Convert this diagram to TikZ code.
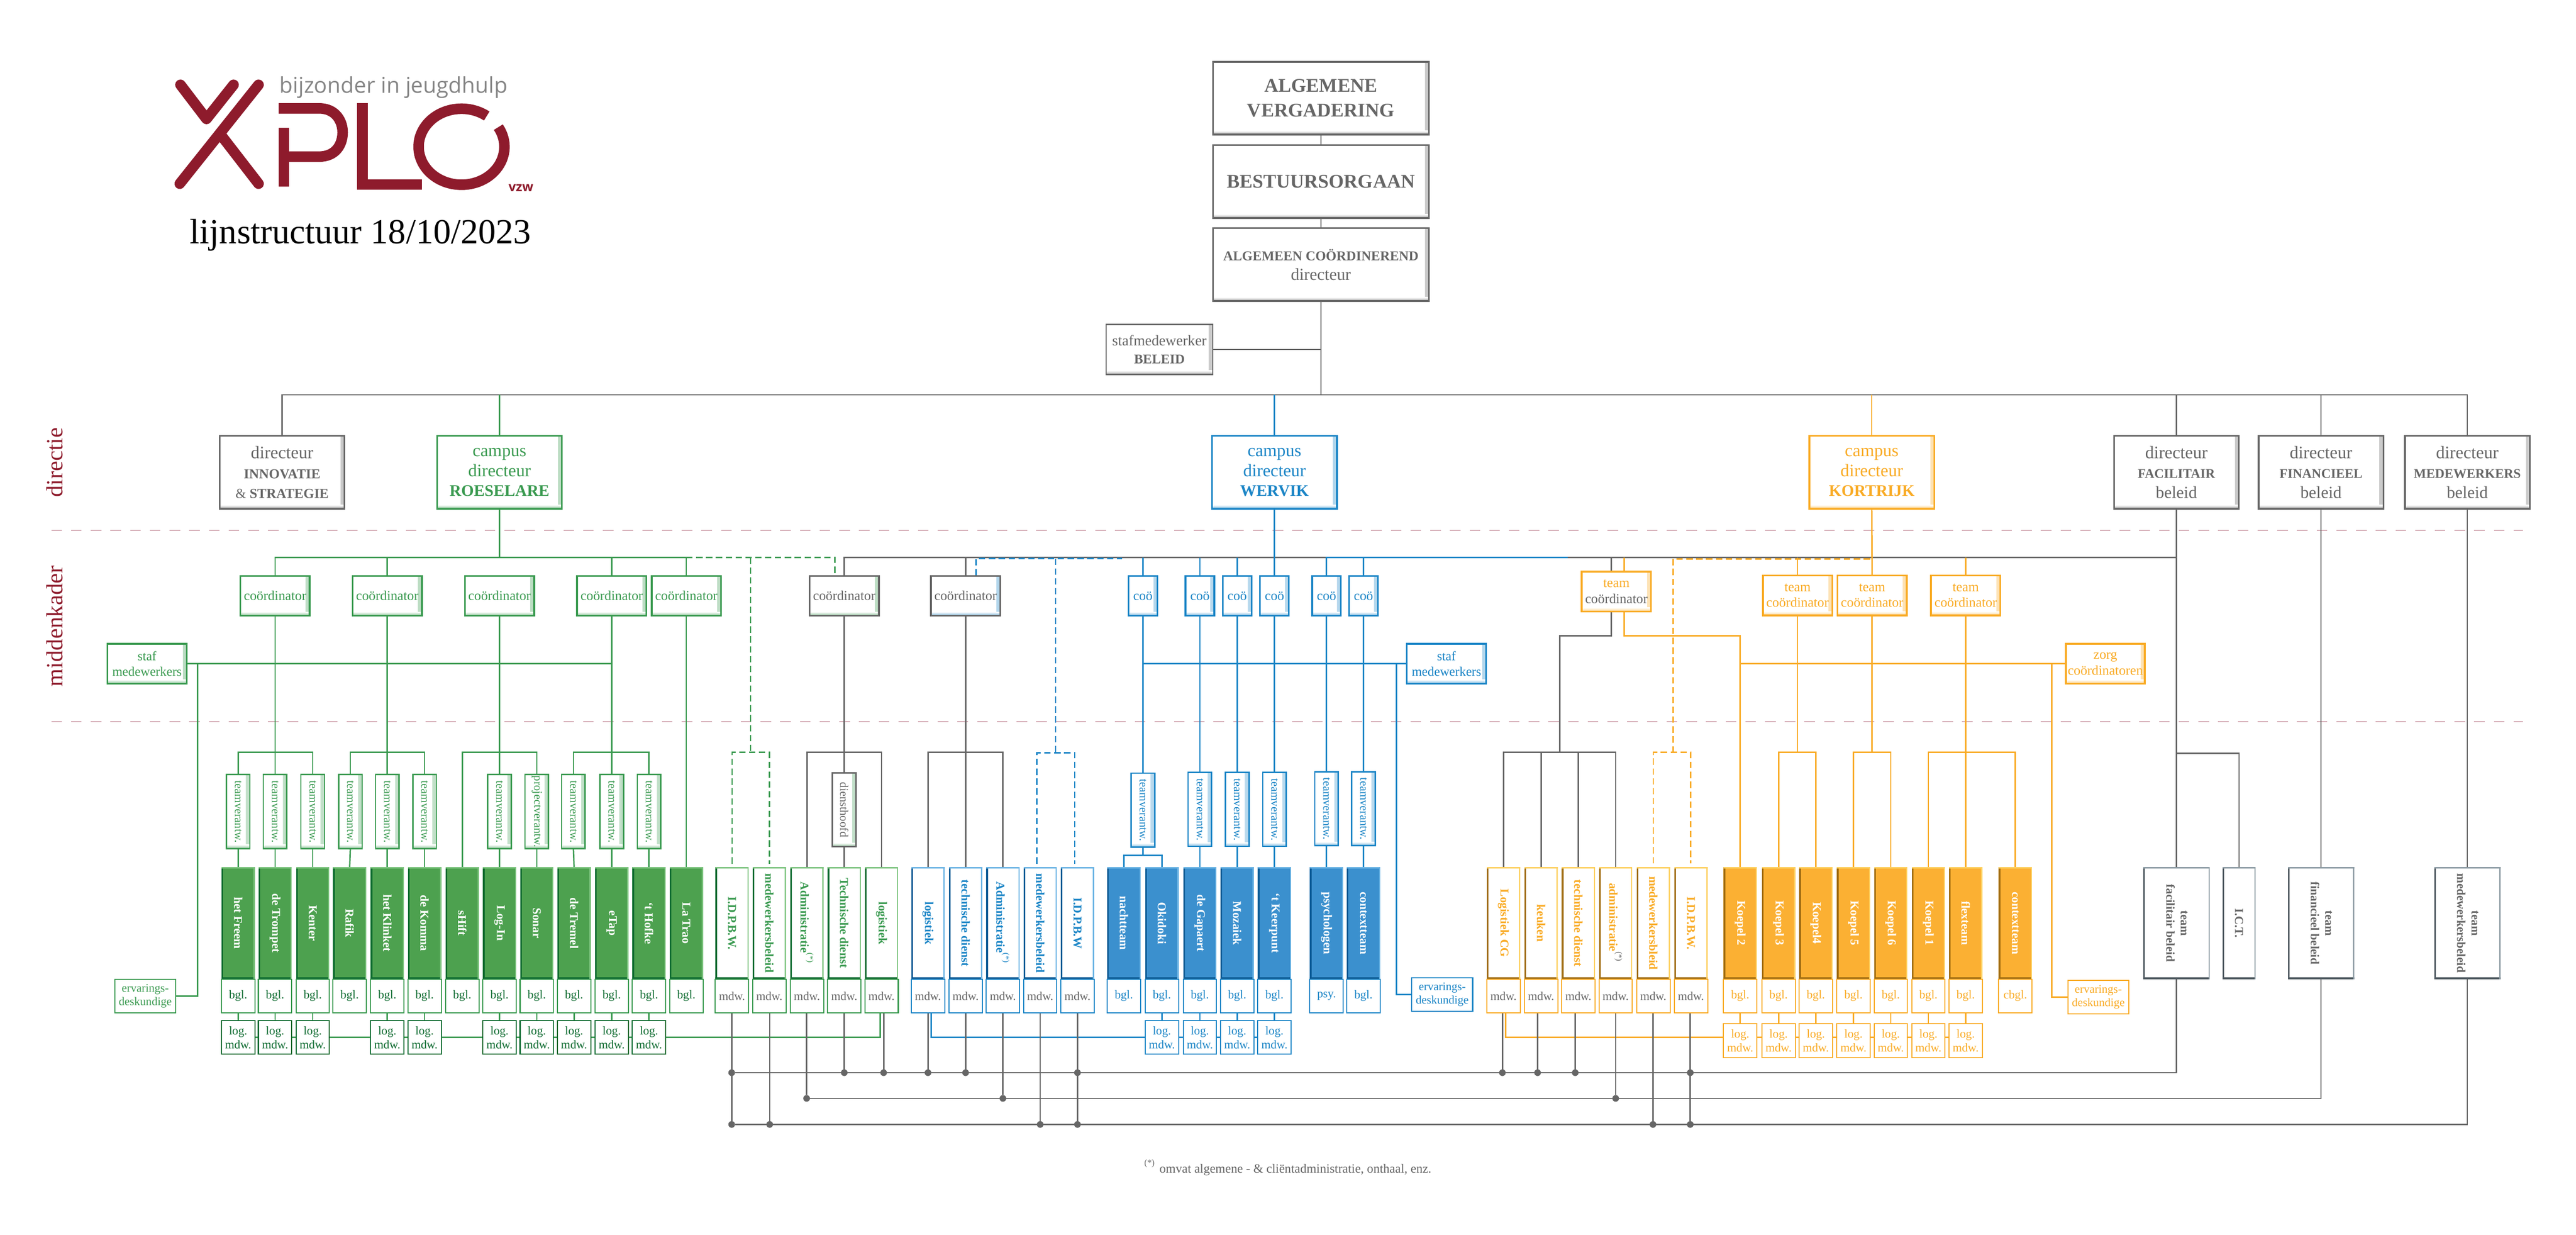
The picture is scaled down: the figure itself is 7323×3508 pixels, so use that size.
\documentclass[tikz,border=0pt]{standalone}
\usepackage{fontspec}
\usepackage{graphicx}
\setmainfont{Liberation Serif}
\newfontfamily\logofont{Open Sans}
\usetikzlibrary{backgrounds}
\definecolor{xgr}{HTML}{3A9A50}
\definecolor{xgrd}{HTML}{0E6B30}
\definecolor{xgrl}{HTML}{7DC47F}
\definecolor{xgrf}{HTML}{4DA14F}
\definecolor{xbl}{HTML}{1B85C6}
\definecolor{xbld}{HTML}{0B5A94}
\definecolor{xbll}{HTML}{6CB4E4}
\definecolor{xblf}{HTML}{3B90CE}
\definecolor{xor}{HTML}{F9AB25}
\definecolor{xord}{HTML}{A06C10}
\definecolor{xorl}{HTML}{FDD060}
\definecolor{xorf}{HTML}{FBB033}
\definecolor{xgy}{HTML}{666666}
\definecolor{xgyd}{HTML}{4F5A61}
\definecolor{xgyl}{HTML}{8C9BA3}
\definecolor{xrd}{HTML}{8E1B2C}
\definecolor{xpk}{HTML}{D3A8B2}
\newcommand{\fnt}[2]{\fontsize{#1}{#2}\selectfont}
\newcommand{\vtxt}[1]{\rotatebox{-90}{#1}}
\newcommand{\vtwo}[2]{\rotatebox{-90}{\begin{tabular}{@{}c@{}}#1\\#2\end{tabular}}}
\newcommand{\noot}{\textsuperscript{\mdseries(*)}}
\begin{document}
\begin{tikzpicture}[x=0.1pt,y=-0.1pt,inner sep=0pt,outer sep=0pt,
bevel/.style={path picture={
\shade[left color=white,right color=#1!35] ([xshift=-1.1pt]path picture bounding box.north east) rectangle (path picture bounding box.south east);
\shade[top color=white,bottom color=#1!55] (path picture bounding box.south west) rectangle ([yshift=1.1pt]path picture bounding box.south east);}},
topbox/.style={draw=xgy,text=xgy,fill=white,bevel=xgy,line width=.5pt,minimum width=61.4pt,minimum height=20.7pt,align=center},
dirbox/.style={draw=#1,text=#1,fill=white,bevel=#1,line width=.5pt,minimum width=35.5pt,minimum height=20.7pt,align=center,font=\fnt{5}{5.6}},
cobox/.style 2 args={draw=#1,text=#1,fill=white,bevel=#2,line width=.5pt,minimum width=19.7pt,minimum height=11.3pt,align=center,font=\fnt{3.85}{4.5}},
coshort/.style={draw=#1,text=#1,fill=white,bevel=#1,line width=.5pt,minimum width=8.2pt,minimum height=11.3pt,font=\fnt{3.8}{4.5}},
tvbox/.style={draw=#1,text=#1,fill=white,bevel=#1,line width=.4pt,minimum width=6.7pt,minimum height=21pt,font=\fnt{3.3}{4}},
mainbox/.style n args={3}{fill=#1,path picture={
\fill[#3] (path picture bounding box.north west) rectangle ([xshift=.5pt]path picture bounding box.south west);
\fill[#3] (path picture bounding box.south west) rectangle ([yshift=.6pt]path picture bounding box.south east);
\fill[#2] (path picture bounding box.north east) rectangle ([xshift=-.35pt]path picture bounding box.south east);
\fill[#2] (path picture bounding box.north west) rectangle ([yshift=-.4pt]path picture bounding box.north east);},
minimum width=9.5pt,minimum height=31.9pt,font=\fnt{3.4}{4}\bfseries},
gfill/.style={mainbox={xgrf}{xgrl}{xgrd},text=white},
gwhite/.style={mainbox={white}{xgrl}{xgrd},text=xgr},
bfill/.style={mainbox={xblf}{xbll}{xbld},text=white},
bwhite/.style={mainbox={white}{xbll}{xbld},text=xbl},
ofill/.style={mainbox={xorf}{xorl}{xord},text=white},
owhite/.style={mainbox={white}{xorl}{xord},text=xor},
ywhite/.style={mainbox={white}{xgyl}{xgyd},text=xgy,minimum width=18.9pt,font=\fnt{3.4}{4.1}\bfseries},
subbox/.style 2 args={draw=#1,text=#2,fill=white,line width=.3pt,minimum width=9.5pt,minimum height=9.5pt,align=center,font=\fnt{3.4}{4}},
ervbox/.style={draw=#1,text=#1,fill=white,line width=.3pt,minimum width=17.3pt,minimum height=9.5pt,align=center,font=\fnt{3.3}{3.9}},
lngy/.style={draw=xgy,line width=.4pt},
lngr/.style={draw=xgr,line width=.4pt},
lnbl/.style={draw=xbl,line width=.4pt},
lnor/.style={draw=xor,line width=.4pt},
dashln/.style={dash pattern=on 1.8pt off 1pt},
zone/.style={draw=xpk,line width=.25pt,dash pattern=on 3pt off 2.6pt},
dotnode/.style={circle,fill=xgy,minimum size=1.9pt},
logostroke/.style={draw=xrd,line width=3pt}]
\useasboundingbox (0,0) rectangle (7323,3508);
\draw[logostroke,line cap=round,line join=round] (513,241) -- (587,338) -- (664,241);
\draw[logostroke,line cap=round] (735,241) -- (511,522);
\draw[logostroke,line cap=round] (626,381) -- (735,522);
\draw[logostroke] (792,308) -- (907,308) .. controls (955,308) and (974,345) .. (974,376) .. controls (974,410) and (955,445) .. (907,445) -- (807,445);
\draw[logostroke] (807,363) -- (807,530);
\draw[logostroke] (1030,293) -- (1030,524) -- (1200,524);
\draw[logostroke] (1383.7,329.6) arc[start angle=54,end angle=391,x radius=12.2pt,y radius=10.8pt];
\draw (1119,248) node[text=xgy!80,font=\fnt{6.2}{7}\logofont] (slog) {bijzonder in jeugdhulp};
\draw (1481,534) node[text=xrd,font=\fnt{3.7}{4}\logofont\bfseries] (vzw) {vzw};
\draw (1025,668) node[font=\fnt{10}{12}] (titel) {lijnstructuur 18/10/2023};
\draw (156,1314) node[text=xrd,font=\fnt{6.6}{7}] (zdir) {\rotatebox{90}{directie}};
\draw (156,1779) node[text=xrd,font=\fnt{6.6}{7}] (zmid) {\rotatebox{90}{middenkader}};
\draw (3661,3318) node[text=xgy,font=\fnt{3.6}{4}] (nota) {\textsuperscript{(*)} omvat algemene - \& cliëntadministratie, onthaal, enz.};

\draw (3755,279) node[topbox,font=\fnt{5.5}{7}\bfseries] (av) {ALGEMENE\\VERGADERING};
\draw (3755,516) node[topbox,font=\fnt{5.5}{7}\bfseries] (bo) {BESTUURSORGAAN};
\draw (3755,752) node[topbox,font=\fnt{4.8}{5.6}] (ac) {{\fnt{3.85}{5.6}\bfseries ALGEMEEN COÖRDINEREND}\\directeur};
\draw (3296,993) node[draw=xgy,text=xgy,fill=white,bevel=xgy,line width=.4pt,minimum width=30.3pt,minimum height=14.2pt,align=center,font=\fnt{4.2}{5}] (st) {stafmedewerker\\{\fnt{3.8}{5}\bfseries BELEID}};
\draw (802,1342) node[dirbox=xgy] (inn) {directeur\\{\fnt{3.9}{5}\bfseries INNOVATIE}\\{\fnt{3.9}{5}\&\ \bfseries STRATEGIE}};
\draw (1420,1342) node[dirbox=xgr] (rs) {campus\\directeur\\{\fnt{4.6}{5.6}\bfseries ROESELARE}};
\draw (3623,1342) node[dirbox=xbl] (wv) {campus\\directeur\\{\fnt{4.6}{5.6}\bfseries WERVIK}};
\draw (5321,1342) node[dirbox=xor] (kt) {campus\\directeur\\{\fnt{4.6}{5.6}\bfseries KORTRIJK}};
\draw (6187,1342) node[dirbox=xgy] (fac) {directeur\\{\fnt{3.75}{5}\bfseries FACILITAIR}\\{\fnt{4.8}{5.6}beleid}};
\draw (6598,1342) node[dirbox=xgy] (fin) {directeur\\{\fnt{3.75}{5}\bfseries FINANCIEEL}\\{\fnt{4.8}{5.6}beleid}};
\draw (7014,1342) node[dirbox=xgy] (med) {directeur\\{\fnt{3.75}{5}\bfseries MEDEWERKERS}\\{\fnt{4.8}{5.6}beleid}};

\draw (418,1886) node[cobox={xgr}{xgr},minimum width=22.6pt,font=\fnt{3.7}{4.5}] (sgr) {staf\\medewerkers};
\draw (782,1693) node[cobox={xgr}{xgr}] (gc1) {coördinator};
\draw (1101,1693) node[cobox={xgr}{xgr}] (gc2) {coördinator};
\draw (1420,1693) node[cobox={xgr}{xgr}] (gc3) {coördinator};
\draw (1739,1693) node[cobox={xgr}{xgr}] (gc4) {coördinator};
\draw (1951,1693) node[cobox={xgr}{xgr}] (gc5) {coördinator};
\draw (2400,1693) node[cobox={xgy}{xgr}] (yc1) {coördinator};
\draw (2745,1693) node[cobox={xgy}{xbl}] (yc2) {coördinator};
\draw (3249,1693) node[coshort=xbl] (bc1) {coö};
\draw (3411,1693) node[coshort=xbl] (bc2) {coö};
\draw (3517,1693) node[coshort=xbl] (bc3) {coö};
\draw (3623,1693) node[coshort=xbl] (bc4) {coö};
\draw (3771,1693) node[coshort=xbl] (bc5) {coö};
\draw (3876,1693) node[coshort=xbl] (bc6) {coö};
\draw (4112,1886) node[cobox={xbl}{xbl},minimum width=22.6pt,font=\fnt{3.7}{4.5}] (sbl) {staf\\medewerkers};
\draw (4595,1681) node[cobox={xor}{xor}] (tco) {team\\\textcolor{xgy}{coördinator}};
\draw (5110,1692) node[cobox={xor}{xor}] (oc1) {team\\coördinator};
\draw (5322,1692) node[cobox={xor}{xor}] (oc2) {team\\coördinator};
\draw (5588,1692) node[cobox={xor}{xor}] (oc3) {team\\coördinator};
\draw (5985,1886) node[cobox={xor}{xor},minimum width=22.4pt] (zc) {zorg\\coördinatoren};

\draw (677,2306) node[tvbox=xgr] (gt1) {\vtxt{teamverantw.}};
\draw (782,2306) node[tvbox=xgr] (gt2) {\vtxt{teamverantw.}};
\draw (889,2306) node[tvbox=xgr] (gt3) {\vtxt{teamverantw.}};
\draw (996,2306) node[tvbox=xgr] (gt4) {\vtxt{teamverantw.}};
\draw (1101,2306) node[tvbox=xgr] (gt5) {\vtxt{teamverantw.}};
\draw (1207,2306) node[tvbox=xgr] (gt6) {\vtxt{teamverantw.}};
\draw (1420,2306) node[tvbox=xgr] (gt8) {\vtxt{teamverantw.}};
\draw (1526,2306) node[tvbox=xgr] (gt9) {\vtxt{projectverantw.}};
\draw (1630,2306) node[tvbox=xgr] (gt10) {\vtxt{teamverantw.}};
\draw (1739,2306) node[tvbox=xgr] (gt11) {\vtxt{teamverantw.}};
\draw (1845,2306) node[tvbox=xgr] (gt12) {\vtxt{teamverantw.}};
\draw (2400,2301) node[tvbox=xgy,bevel=xgr] (yt1) {\vtxt{diensthoofd}};
\draw (3249,2302) node[tvbox=xbl] (bt1) {\vtxt{teamverantw.}};
\draw (3411,2300) node[tvbox=xbl] (bt2) {\vtxt{teamverantw.}};
\draw (3517,2300) node[tvbox=xbl] (bt3) {\vtxt{teamverantw.}};
\draw (3623,2300) node[tvbox=xbl] (bt4) {\vtxt{teamverantw.}};
\draw (3771,2298) node[tvbox=xbl] (bt5) {\vtxt{teamverantw.}};
\draw (3876,2298) node[tvbox=xbl] (bt6) {\vtxt{teamverantw.}};

\draw (677,2623) node[gfill] (g1) {\vtxt{het Freem}};
\draw (782,2623) node[gfill] (g2) {\vtxt{de Trompet}};
\draw (889,2623) node[gfill] (g3) {\vtxt{Kenter}};
\draw (994,2623) node[gfill] (g4) {\vtxt{Rafik}};
\draw (1101,2623) node[gfill] (g5) {\vtxt{het Klinket}};
\draw (1207,2623) node[gfill] (g6) {\vtxt{de Komma}};
\draw (1314,2623) node[gfill] (g7) {\vtxt{sHift}};
\draw (1420,2623) node[gfill] (g8) {\vtxt{Log-In}};
\draw (1526,2623) node[gfill] (g9) {\vtxt{Sonar}};
\draw (1632,2623) node[gfill] (g10) {\vtxt{de Tremel}};
\draw (1739,2623) node[gfill] (g11) {\vtxt{eTap}};
\draw (1845,2623) node[gfill] (g12) {\vtxt{`t Hofke}};
\draw (1951,2623) node[gfill] (g13) {\vtxt{La Trao}};
\draw (2081,2623) node[gwhite] (gw1) {\vtxt{I.D.P.B.W.}};
\draw (2187,2623) node[gwhite] (gw2) {\vtxt{medewerkersbeleid}};
\draw (2294,2623) node[gwhite] (gw3) {\vtxt{Administratie\noot}};
\draw (2400,2623) node[gwhite] (gw4) {\vtxt{Technische dienst}};
\draw (2506,2623) node[gwhite] (gw5) {\vtxt{logistiek}};
\draw (2638,2623) node[bwhite] (bw1) {\vtxt{logistiek}};
\draw (2745,2623) node[bwhite] (bw2) {\vtxt{technische dienst}};
\draw (2851,2623) node[bwhite] (bw3) {\vtxt{Administratie\noot}};
\draw (2957,2623) node[bwhite] (bw4) {\vtxt{medewerkersbeleid}};
\draw (3063,2623) node[bwhite] (bw5) {\vtxt{I.D.P.B.W}};
\draw (3195,2623) node[bfill] (b1) {\vtxt{nachtteam}};
\draw (3303,2623) node[bfill] (b2) {\vtxt{Okidoki}};
\draw (3411,2623) node[bfill] (b3) {\vtxt{de Gapaert}};
\draw (3517,2623) node[bfill] (b4) {\vtxt{Mozaiek}};
\draw (3623,2623) node[bfill] (b5) {\vtxt{`t Keerpunt}};
\draw (3771,2623) node[bfill] (b6) {\vtxt{psychologen}};
\draw (3876,2623) node[bfill] (b7) {\vtxt{contextteam}};
\draw (4274,2623) node[owhite] (ow1) {\vtxt{Logistiek CG}};
\draw (4381,2623) node[owhite] (ow2) {\vtxt{keuken}};
\draw (4487,2623) node[owhite] (ow3) {\vtxt{technische dienst}};
\draw (4593,2623) node[owhite] (ow4) {\vtxt{administratie\textcolor{xgy}{\noot}}};
\draw (4700,2623) node[owhite] (ow5) {\vtxt{medewerkersbleid}};
\draw (4807,2623) node[owhite] (ow6) {\vtxt{I.D.P.B.W.}};
\draw (4947,2623) node[ofill] (o1) {\vtxt{Koepel 2}};
\draw (5056,2623) node[ofill] (o2) {\vtxt{Koepel 3}};
\draw (5162,2623) node[ofill] (o3) {\vtxt{Koepel4}};
\draw (5269,2623) node[ofill] (o4) {\vtxt{Koepel 5}};
\draw (5375,2623) node[ofill] (o5) {\vtxt{Koepel 6}};
\draw (5482,2623) node[ofill] (o6) {\vtxt{Koepel 1}};
\draw (5588,2623) node[ofill] (o7) {\vtxt{flexteam}};
\draw (5729,2623) node[ofill] (o8) {\vtxt{contextteam}};
\draw (6187,2623) node[ywhite] (tf) {\vtwo{team}{facilitair beleid}};
\draw (6365,2623) node[ywhite,minimum width=9.5pt] (ict) {\vtxt{I.C.T.}};
\draw (6598,2623) node[ywhite] (ti) {\vtwo{team}{financieel beleid}};
\draw (7014,2623) node[ywhite] (tm) {\vtwo{team}{medewerkersbeleid}};

\draw (677,2830) node[subbox={xgr}{xgrd}] (gb1) {bgl.};
\draw (782,2830) node[subbox={xgr}{xgrd}] (gb2) {bgl.};
\draw (889,2830) node[subbox={xgr}{xgrd}] (gb3) {bgl.};
\draw (994,2830) node[subbox={xgr}{xgrd}] (gb4) {bgl.};
\draw (1101,2830) node[subbox={xgr}{xgrd}] (gb5) {bgl.};
\draw (1207,2830) node[subbox={xgr}{xgrd}] (gb6) {bgl.};
\draw (1314,2830) node[subbox={xgr}{xgrd}] (gb7) {bgl.};
\draw (1420,2830) node[subbox={xgr}{xgrd}] (gb8) {bgl.};
\draw (1526,2830) node[subbox={xgr}{xgrd}] (gb9) {bgl.};
\draw (1632,2830) node[subbox={xgr}{xgrd}] (gb10) {bgl.};
\draw (1739,2830) node[subbox={xgr}{xgrd}] (gb11) {bgl.};
\draw (1845,2830) node[subbox={xgr}{xgrd}] (gb12) {bgl.};
\draw (1951,2830) node[subbox={xgr}{xgrd}] (gb13) {bgl.};
\draw (2081,2830) node[subbox={xgr}{xgy}] (gm1) {mdw.};
\draw (2187,2830) node[subbox={xgr}{xgy}] (gm2) {mdw.};
\draw (2294,2830) node[subbox={xgr}{xgy}] (gm3) {mdw.};
\draw (2400,2830) node[subbox={xgr}{xgy}] (gm4) {mdw.};
\draw (2506,2830) node[subbox={xgr}{xgy}] (gm5) {mdw.};
\draw (2638,2830) node[subbox={xbl}{xgy}] (bm1) {mdw.};
\draw (2745,2830) node[subbox={xbl}{xgy}] (bm2) {mdw.};
\draw (2851,2830) node[subbox={xbl}{xgy}] (bm3) {mdw.};
\draw (2957,2830) node[subbox={xbl}{xgy}] (bm4) {mdw.};
\draw (3063,2830) node[subbox={xbl}{xgy}] (bm5) {mdw.};
\draw (3195,2830) node[subbox={xbl}{xbl}] (bs1) {bgl.};
\draw (3303,2830) node[subbox={xbl}{xbl}] (bs2) {bgl.};
\draw (3411,2830) node[subbox={xbl}{xbl}] (bs3) {bgl.};
\draw (3517,2830) node[subbox={xbl}{xbl}] (bs4) {bgl.};
\draw (3623,2830) node[subbox={xbl}{xbl}] (bs5) {bgl.};
\draw (3771,2830) node[subbox={xbl}{xbl}] (bs6) {psy.};
\draw (3876,2830) node[subbox={xbl}{xbl}] (bs7) {bgl.};
\draw (4274,2830) node[subbox={xor}{xgy}] (om1) {mdw.};
\draw (4381,2830) node[subbox={xor}{xgy}] (om2) {mdw.};
\draw (4487,2830) node[subbox={xor}{xgy}] (om3) {mdw.};
\draw (4593,2830) node[subbox={xor}{xgy}] (om4) {mdw.};
\draw (4700,2830) node[subbox={xor}{xgy}] (om5) {mdw.};
\draw (4807,2830) node[subbox={xor}{xgy}] (om6) {mdw.};
\draw (4947,2830) node[subbox={xor}{xor}] (os1) {bgl.};
\draw (5056,2830) node[subbox={xor}{xor}] (os2) {bgl.};
\draw (5162,2830) node[subbox={xor}{xor}] (os3) {bgl.};
\draw (5269,2830) node[subbox={xor}{xor}] (os4) {bgl.};
\draw (5375,2830) node[subbox={xor}{xor}] (os5) {bgl.};
\draw (5482,2830) node[subbox={xor}{xor}] (os6) {bgl.};
\draw (5588,2830) node[subbox={xor}{xor}] (os7) {bgl.};
\draw (5729,2830) node[subbox={xor}{xor}] (os8) {cbgl.};

\draw (677,2948) node[subbox={xgrd}{xgrd}] (gl1) {log.\\mdw.};
\draw (782,2948) node[subbox={xgrd}{xgrd}] (gl2) {log.\\mdw.};
\draw (889,2948) node[subbox={xgrd}{xgrd}] (gl3) {log.\\mdw.};
\draw (1101,2948) node[subbox={xgrd}{xgrd}] (gl5) {log.\\mdw.};
\draw (1207,2948) node[subbox={xgrd}{xgrd}] (gl6) {log.\\mdw.};
\draw (1420,2948) node[subbox={xgrd}{xgrd}] (gl8) {log.\\mdw.};
\draw (1526,2948) node[subbox={xgrd}{xgrd}] (gl9) {log.\\mdw.};
\draw (1632,2948) node[subbox={xgrd}{xgrd}] (gl10) {log.\\mdw.};
\draw (1739,2948) node[subbox={xgrd}{xgrd}] (gl11) {log.\\mdw.};
\draw (1845,2948) node[subbox={xgrd}{xgrd}] (gl12) {log.\\mdw.};
\draw (3303,2948) node[subbox={xbl}{xbl}] (bl2) {log.\\mdw.};
\draw (3411,2948) node[subbox={xbl}{xbl}] (bl3) {log.\\mdw.};
\draw (3517,2948) node[subbox={xbl}{xbl}] (bl4) {log.\\mdw.};
\draw (3623,2948) node[subbox={xbl}{xbl}] (bl5) {log.\\mdw.};
\draw (4947,2957) node[subbox={xor}{xor},minimum height=9.7pt] (ol1) {log.\\mdw.};
\draw (5056,2957) node[subbox={xor}{xor},minimum height=9.7pt] (ol2) {log.\\mdw.};
\draw (5162,2957) node[subbox={xor}{xor},minimum height=9.7pt] (ol3) {log.\\mdw.};
\draw (5269,2957) node[subbox={xor}{xor},minimum height=9.7pt] (ol4) {log.\\mdw.};
\draw (5375,2957) node[subbox={xor}{xor},minimum height=9.7pt] (ol5) {log.\\mdw.};
\draw (5482,2957) node[subbox={xor}{xor},minimum height=9.7pt] (ol6) {log.\\mdw.};
\draw (5588,2957) node[subbox={xor}{xor},minimum height=9.7pt] (ol7) {log.\\mdw.};
\draw (413,2830) node[ervbox=xgr] (egr) {ervarings-\\deskundige};
\draw (4100,2826) node[ervbox=xbl] (ebl) {ervarings-\\deskundige};
\draw (5965,2833) node[ervbox=xor] (eor) {ervarings-\\deskundige};

\draw (2080,3048) node[dotnode] (da1) {};
\draw (2400,3048) node[dotnode] (da2) {};
\draw (2512,3048) node[dotnode] (da3) {};
\draw (2638,3048) node[dotnode] (da4) {};
\draw (2745,3048) node[dotnode] (da5) {};
\draw (3063,3048) node[dotnode] (da6) {};
\draw (4271,3048) node[dotnode] (da7) {};
\draw (4371,3048) node[dotnode] (da8) {};
\draw (4478,3048) node[dotnode] (da9) {};
\draw (4805,3048) node[dotnode] (da10) {};
\draw (2293,3121) node[dotnode] (db1) {};
\draw (2851,3121) node[dotnode] (db2) {};
\draw (4593,3121) node[dotnode] (db3) {};
\draw (2080,3195) node[dotnode] (dc1) {};
\draw (2188,3195) node[dotnode] (dc2) {};
\draw (2957,3195) node[dotnode] (dc3) {};
\draw (3063,3195) node[dotnode] (dc4) {};
\draw (4699,3195) node[dotnode] (dc5) {};
\draw (4805,3195) node[dotnode] (dc6) {};

\coordinate (top) at (3755,1122);
\coordinate (gtop) at (1420,1584);
\coordinate (ytop) at (6187,1584);
\coordinate (btop) at (4456,1584);
\coordinate (gbr1) at (782,2138);
\coordinate (gbr2) at (1101,2138);
\coordinate (gbr3) at (1420,2138);
\coordinate (gbr4) at (1739,2138);
\coordinate (ybr1) at (2400,2138);
\coordinate (ybr2) at (2745,2138);
\coordinate (bbr1) at (3249,2430);
\coordinate (ybr3) at (4434,2138);
\coordinate (ybr4) at (6187,2140);
\coordinate (obr1) at (5110,2138);
\coordinate (obr2) at (5322,2138);
\coordinate (obr3) at (5588,2138);
\coordinate (tcy) at (4581,1584);
\coordinate (tco1) at (4617,1584);
\coordinate (tcy2) at (4434,1807);
\coordinate (tco2) at (4947,1807);
\coordinate (jgr) at (562,1886);
\coordinate (jbl) at (3970,1886);
\coordinate (jor) at (5833,1886);
\coordinate (gln) at (2502,2948);
\coordinate (bln) at (2647,2948);
\coordinate (oln) at (4280,2948);
\coordinate (dg1) at (2373,1635);
\coordinate (dg2) at (2134,1584);
\coordinate (dg3) at (2134,2138);
\coordinate (dg4) at (2081,2454);
\coordinate (dg5) at (2187,2454);
\coordinate (db1a) at (2775,1635);
\coordinate (db2a) at (3190,1587);
\coordinate (db3a) at (3001,1587);
\coordinate (db4a) at (3001,2139);
\coordinate (db5a) at (2948,2454);
\coordinate (db6a) at (3055,2454);
\coordinate (do1) at (4756,1588);
\coordinate (do2) at (4756,2138);
\coordinate (do3) at (4700,2453);
\coordinate (do4) at (4806,2453);
\coordinate (zl1) at (146,1507);
\coordinate (zl2) at (7172,1507);
\coordinate (zl3) at (146,2050);
\coordinate (zl4) at (7172,2050);

\begin{scope}[on background layer]
\draw[zone] (zl1) -- (zl2);
\draw[zone] (zl3) -- (zl4);
\draw[lngy] (av.south) -- (bo.north);
\draw[lngy] (bo.south) -- (ac.north);
\draw[lngy] (ac.south) -- (top);
\draw[lngy] (st.east) -- (st.east -| ac.south);
\draw[lngy] (inn.north) |- (top) -| (med.north);
\draw[lngy] (fac.north) -- (fac.north |- top);
\draw[lngy] (fin.north) -- (fin.north |- top);
\draw[lngr] (rs.north) -- (rs.north |- top);
\draw[lnbl] (wv.north) -- (wv.north |- top);
\draw[lnor] (kt.north) -- (kt.north |- top);
\draw[lngy] (yc1.north) |- (ytop);
\draw[lngy] (yc2.north) -- (yc2.north |- ytop);
\draw[lngy] (fac.south) -- (tf.north);
\draw[lngy] (fin.south) -- (ti.north);
\draw[lngy] (med.south) -- (tm.north);
\draw[lngy] (ybr4) -| (ict.north);

\draw[lngr] (rs.south) -- (gtop);
\draw[lngr] (gc1.north) |- (gtop) -| (gc5.north);
\draw[lngr] (gc2.north) -- (gc2.north |- gtop);
\draw[lngr] (gc4.north) -- (gc4.north |- gtop);
\draw[lngr] (sgr.east) -- (sgr.east -| gc4.south);
\draw[lngr] (jgr) |- (egr.east);
\draw[lngr] (gc1.south) -- (gt2.north);
\draw[lngr] (gc2.south) -- (gt5.north);
\draw[lngr] (gc3.south) -- (gt8.north);
\draw[lngr] (gc4.south) -- (gt11.north);
\draw[lngr] (gc5.south) -- (g13.north);
\draw[lngr] (gt1.north) |- (gbr1) -| (gt3.north);
\draw[lngr] (gt4.north) |- (gbr2) -| (gt6.north);
\draw[lngr] (g7.north) |- (gbr3) -| (gt9.north);
\draw[lngr] (gt10.north) |- (gbr4) -| (gt12.north);
\draw[lngr] (gt1.south) -- (g1.north);
\draw[lngr] (gt2.south) -- (g2.north);
\draw[lngr] (gt3.south) -- (g3.north);
\draw[lngr] (gt4.south) -- (g4.north);
\draw[lngr] (gt5.south) -- (g5.north);
\draw[lngr] (gt6.south) -- (g6.north);
\draw[lngr] (gt8.south) -- (g8.north);
\draw[lngr] (gt9.south) -- (g9.north);
\draw[lngr] (gt10.south) -- (g10.north);
\draw[lngr] (gt11.south) -- (g11.north);
\draw[lngr] (gt12.south) -- (g12.north);
\draw[lngr] (gb1.south) -- (gl1.north);
\draw[lngr] (gb2.south) -- (gl2.north);
\draw[lngr] (gb3.south) -- (gl3.north);
\draw[lngr] (gb5.south) -- (gl5.north);
\draw[lngr] (gb6.south) -- (gl6.north);
\draw[lngr] (gb8.south) -- (gl8.north);
\draw[lngr] (gb9.south) -- (gl9.north);
\draw[lngr] (gb10.south) -- (gl10.north);
\draw[lngr] (gb11.south) -- (gl11.north);
\draw[lngr] (gb12.south) -- (gl12.north);
\draw[lngr] (gln |- gm5.south) -- (gln) -- (gln -| gl1.center);
\draw[lngr,dashln] (gc5.north |- gtop) -| (dg1);
\draw[lngr,dashln] (dg2) -- (dg3);
\draw[lngr,dashln] (dg4) |- (dg3) -| (dg5);

\draw[lngy] (yc1.south) -- (gw4.north);
\draw[lngy] (gw3.north) |- (ybr1) -| (gw5.north);
\draw[lngy] (yc2.south) -- (bw2.north);
\draw[lngy] (bw1.north) |- (ybr2) -| (bw3.north);
\draw[lnbl,dashln] (db1a) |- (db2a);
\draw[lnbl,dashln] (db3a) -- (db4a);
\draw[lnbl,dashln] (db5a) |- (db4a) -| (db6a);

\draw[lnbl] (wv.south) -- (bc4.north);
\draw[lnbl] (bc1.north) -- (bc1.north |- btop);
\draw[lnbl] (bc2.north) -- (bc2.north |- btop);
\draw[lnbl] (bc3.north) -- (bc3.north |- btop);
\draw[lnbl] (bc5.north) |- (btop);
\draw[lnbl] (bc6.north) -- (bc6.north |- btop);
\draw[lnbl] (bc1.south |- sbl.west) -- (sbl.west);
\draw[lnbl] (jbl) |- (ebl.west);
\draw[lnbl] (bc1.south) -- (bt1.north);
\draw[lnbl] (bc2.south) -- (bt2.north);
\draw[lnbl] (bc3.south) -- (bt3.north);
\draw[lnbl] (bc4.south) -- (bt4.north);
\draw[lnbl] (bc5.south) -- (bt5.north);
\draw[lnbl] (bc6.south) -- (bt6.north);
\draw[lnbl] (bt1.south) -- (bbr1);
\draw[lnbl] (b1.north) |- (bbr1) -| (b2.north);
\draw[lnbl] (bt2.south) -- (b3.north);
\draw[lnbl] (bt3.south) -- (b4.north);
\draw[lnbl] (bt4.south) -- (b5.north);
\draw[lnbl] (bt5.south) -- (b6.north);
\draw[lnbl] (bt6.south) -- (b7.north);
\draw[lnbl] (bs2.south) -- (bl2.north);
\draw[lnbl] (bs3.south) -- (bl3.north);
\draw[lnbl] (bs4.south) -- (bl4.north);
\draw[lnbl] (bs5.south) -- (bl5.north);
\draw[lnbl] (bln |- bm1.south) -- (bln) -- (bln -| bl5.center);

\draw[lngy] (tcy) -- (tcy |- tco.north);
\draw[lngy] (tcy |- tco.south) |- (tcy2) -- (ybr3);
\draw[lngy] (ow1.north) |- (ybr3) -| (ow4.north);
\draw[lngy] (ow2.north) -- (ow2.north |- ybr3);
\draw[lngy] (ow3.north) -- (ow3.north |- ybr3);
\draw[lnor] (tco1) -- (tco1 |- tco.north);
\draw[lnor] (tco1 |- tco.south) |- (tco2) -| (o1.north);
\draw[lnor,dashln] (do2) |- (oc2.north |- do1);
\draw[lnor,dashln] (do3) |- (do2) -| (do4);
\draw[lnor] (kt.south) -- (oc2.north);
\draw[lnor] (oc1.north) -- (oc1.north |- ytop);
\draw[lnor] (oc3.north) -- (oc3.north |- ytop);
\draw[lnor] (o1.north |- zc.west) -- (zc.west);
\draw[lnor] (jor) |- (eor.west);
\draw[lnor] (oc1.south) -- (obr1);
\draw[lnor] (oc2.south) -- (obr2);
\draw[lnor] (oc3.south) -- (o7.north);
\draw[lnor] (o2.north) |- (obr1) -| (o3.north);
\draw[lnor] (o4.north) |- (obr2) -| (o5.north);
\draw[lnor] (o6.north) |- (obr3) -| (o8.north);
\draw[lnor] (os1.south) -- (ol1.north);
\draw[lnor] (os2.south) -- (ol2.north);
\draw[lnor] (os3.south) -- (ol3.north);
\draw[lnor] (os4.south) -- (ol4.north);
\draw[lnor] (os5.south) -- (ol5.north);
\draw[lnor] (os6.south) -- (ol6.north);
\draw[lnor] (os7.south) -- (ol7.north);
\draw[lnor] (oln |- om1.south) -- (oln) -- (oln -| ol7.center);

\draw[lngy] (dc1 |- gm1.south) -- (dc1);
\draw[lngy] (dc2 |- gm2.south) -- (dc2);
\draw[lngy] (db1 |- gm3.south) -- (db1);
\draw[lngy] (da2 |- gm4.south) -- (da2);
\draw[lngy] (da3 |- gm5.south) -- (da3);
\draw[lngy] (da4 |- bm1.south) -- (da4);
\draw[lngy] (da5 |- bm2.south) -- (da5);
\draw[lngy] (db2 |- bm3.south) -- (db2);
\draw[lngy] (dc3 |- bm4.south) -- (dc3);
\draw[lngy] (dc4 |- bm5.south) -- (dc4);
\draw[lngy] (da7 |- om1.south) -- (da7);
\draw[lngy] (da8 |- om2.south) -- (da8);
\draw[lngy] (da9 |- om3.south) -- (da9);
\draw[lngy] (db3 |- om4.south) -- (db3);
\draw[lngy] (dc5 |- om5.south) -- (dc5);
\draw[lngy] (dc6 |- om6.south) -- (dc6);
\draw[lngy] (tf.south) |- (da1);
\draw[lngy] (ti.south) |- (db1);
\draw[lngy] (tm.south) |- (dc1);
\end{scope}
\end{tikzpicture}
\end{document}
